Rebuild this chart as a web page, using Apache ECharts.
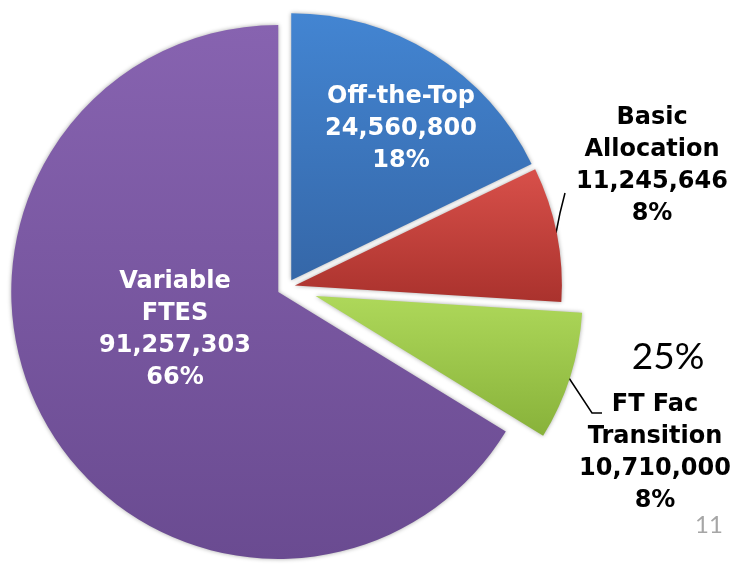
<!DOCTYPE html>
<html>
<head>
<meta charset="utf-8">
<script src="https://cdn.jsdelivr.net/npm/echarts@6/dist/echarts.min.js"></script>
<style>
html, body { margin: 0; padding: 0; background: #fff; }
#main { width: 736px; height: 565px; }
</style>
</head>
<body>
<div id="main"></div>
<script>
// data
var names = ['Off-the-Top', 'Basic\nAllocation', 'FT Fac\nTransition', 'Variable\nFTES'];
var values = [24560800, 11245646, 10710000, 91257303];

// styles, one entry per slice
var colors = [['#4385d2', '#3567a8'], ['#d8504a', '#aa322d'], ['#aed85a', '#88b23a'], ['#8763b0', '#6a4b91']];
var offsets = [8, 8, 30, 10];
var labelColors = ['#fff', '#000', '#000', '#fff'];
var labelCenters = [[401, 129], [652, 166], [655, 453], [175, 330]];
var linePoints = [null, [[556, 233], [560, 213], [565, 193]], [[567, 375], [592, 413], [602, 413]], null];

var cx = 287, cy = 287;

function fill(c) {
    return {
        type: 'linear', x: 0, y: 0, x2: 0, y2: 1,
        colorStops: [{offset: 0, color: c[0]}, {offset: 1, color: c[1]}]
    };
}

var total = values.reduce(function (a, b) { return a + b; }, 0);

var myChart = echarts.init(document.getElementById('main'));

// one pie per slice so every slice can be pulled out by its own distance
var acc = 0;
var series = values.map(function (v, i) {
    var mid = (90 - (acc + v / 2) / total * 360) * Math.PI / 180;
    acc += v;
    var center = [cx + offsets[i] * Math.cos(mid), cy - offsets[i] * Math.sin(mid)];
    return {
        type: 'pie',
        center: center,
        radius: 267,
        startAngle: 90,
        clockwise: true,
        silent: true,
        animation: false,
        avoidLabelOverlap: false,
        emphasis: {disabled: true},
        label: {
            position: linePoints[i] ? 'outside' : 'inside',
            formatter: function (p) {
                return p.name + '\n' + p.value.toLocaleString('en-US') + '\n' + Math.round(p.percent) + '%';
            },
            fontFamily: 'DejaVu Sans',
            fontWeight: 'bold',
            fontSize: 24,
            lineHeight: 32,
            color: labelColors[i],
            align: 'center'
        },
        labelLine: {
            length: 10,
            length2: 10,
            lineStyle: {color: '#000', width: 1.5}
        },
        labelLayout: function (p) {
            if (p.dataIndex !== i) return {};
            var o = {x: labelCenters[i][0], y: labelCenters[i][1], align: 'center', verticalAlign: 'middle'};
            if (linePoints[i]) o.labelLinePoints = linePoints[i];
            return o;
        },
        data: values.map(function (val, j) {
            var show = j === i;
            return {
                name: names[j],
                value: val,
                itemStyle: show ? {
                    color: fill(colors[i]),
                    shadowBlur: 4,
                    shadowColor: 'rgba(0,0,0,0.35)',
                    borderWidth: 0
                } : {color: 'rgba(0,0,0,0)', borderWidth: 0, shadowBlur: 0},
                label: {show: show},
                labelLine: {show: show && linePoints[i] !== null}
            };
        })
    };
});

var option = {
    backgroundColor: '#fff',
    graphic: [
        {
            type: 'text', x: 668, y: 357,
            style: {text: '25%', fontFamily: 'Lato', fontSize: 37, fill: '#000', align: 'center', verticalAlign: 'middle'}
        },
        {
            type: 'text', x: 709, y: 525,
            style: {text: '11', fontFamily: 'Lato', fontSize: 24, fill: '#a6a6a6', align: 'center', verticalAlign: 'middle'}
        }
    ],
    series: series
};
myChart.setOption(option);
</script>
</body>
</html>
